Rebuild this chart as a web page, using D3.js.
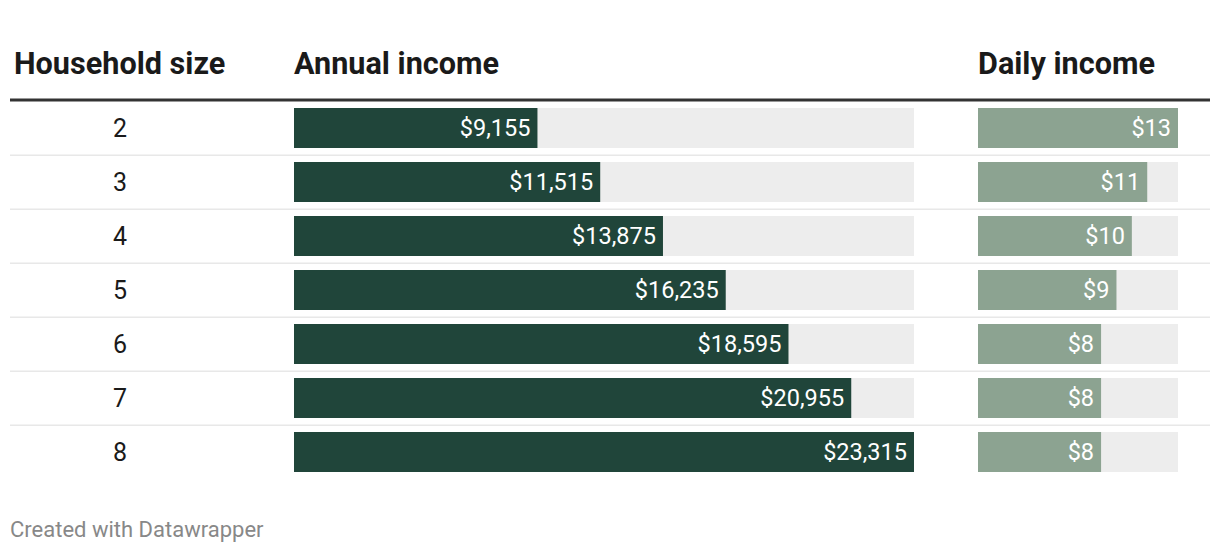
<!DOCTYPE html>
<html>
<head>
<meta charset="utf-8">
<script src="https://cdn.jsdelivr.net/npm/d3@7"></script>
<style>
  body { margin: 0; background: #fff; }
  svg { display: block; font-family: Roboto, sans-serif; }
</style>
</head>
<body>
<div id="chart"></div>
<script>
//Data
const householdSizes = ['2', '3', '4', '5', '6', '7', '8'];
const annualIncome = [9155, 11515, 13875, 16235, 18595, 20955, 23315];
const dailyIncome = [13, 11, 10, 9, 8, 8, 8];
const headers = ['Household size', 'Annual income', 'Daily income'];

const rows = householdSizes.map((s, i) => {
    return { size: s, annual: annualIncome[i], daily: dailyIncome[i] };
});

//General config
const width = 1220;
const height = 554;
const fmtAnnual = d3.format('$,');
const fmtDaily = d => '$' + d;

//Scales
const y = d3.scaleBand().domain(householdSizes).range([101, 101 + 54 * householdSizes.length]).padding(0);
const xAnnual = d3.scaleLinear().domain([0, d3.max(annualIncome)]).range([294, 914]);
const xDaily = d3.scaleLinear().domain([0, d3.max(dailyIncome)]).range([978, 1178]);
const barOffset = 7;
const barHeight = 40;

const svg = d3.select('#chart').append('svg')
    .attr('width', width)
    .attr('height', height);

//Headers
svg.selectAll('.header')
    .data(headers)
    .enter()
    .append('text')
    .attr('class', 'header')
    .attr('x', (d, i) => [14, 294, 978][i])
    .attr('y', 74)
    .attr('font-size', 30.6)
    .attr('font-weight', 700)
    .attr('fill', '#1a1a1a')
    .text(d => d);

svg.append('rect')
    .attr('x', 10)
    .attr('y', 98.5)
    .attr('width', 1200)
    .attr('height', 3)
    .attr('fill', '#333');

//Row separators
svg.selectAll('.sep')
    .data(rows.slice(0, -1))
    .enter()
    .append('rect')
    .attr('class', 'sep')
    .attr('x', 10)
    .attr('y', d => y(d.size) + y.bandwidth() - 0.5)
    .attr('width', 1200)
    .attr('height', 1.5)
    .attr('fill', '#e8e8e8');

const row = svg.selectAll('.row')
    .data(rows)
    .enter()
    .append('g')
    .attr('class', 'row');

//Household size
row.append('text')
    .attr('x', 120)
    .attr('y', d => y(d.size) + barOffset + barHeight / 2)
    .attr('dy', '0.35em')
    .attr('text-anchor', 'middle')
    .attr('font-size', 25)
    .attr('fill', '#1a1a1a')
    .text(d => d.size);

//Annual bars
row.append('rect')
    .attr('x', xAnnual(0))
    .attr('y', d => y(d.size) + barOffset)
    .attr('width', xAnnual.range()[1] - xAnnual.range()[0])
    .attr('height', barHeight)
    .attr('fill', '#ededed');

row.append('rect')
    .attr('x', xAnnual(0))
    .attr('y', d => y(d.size) + barOffset)
    .attr('width', d => xAnnual(d.annual) - xAnnual(0))
    .attr('height', barHeight)
    .attr('fill', '#20453a');

row.append('text')
    .attr('x', d => xAnnual(d.annual) - 7)
    .attr('y', d => y(d.size) + barOffset + barHeight / 2)
    .attr('dy', '0.35em')
    .attr('text-anchor', 'end')
    .attr('font-size', 23.5)
    .attr('fill', '#fff')
    .text(d => fmtAnnual(d.annual));

//Daily bars
row.append('rect')
    .attr('x', xDaily(0))
    .attr('y', d => y(d.size) + barOffset)
    .attr('width', xDaily.range()[1] - xDaily.range()[0])
    .attr('height', barHeight)
    .attr('fill', '#ededed');

row.append('rect')
    .attr('x', xDaily(0))
    .attr('y', d => y(d.size) + barOffset)
    .attr('width', d => xDaily(d.daily) - xDaily(0))
    .attr('height', barHeight)
    .attr('fill', '#8ca391');

row.append('text')
    .attr('x', d => xDaily(d.daily) - 7)
    .attr('y', d => y(d.size) + barOffset + barHeight / 2)
    .attr('dy', '0.35em')
    .attr('text-anchor', 'end')
    .attr('font-size', 23.5)
    .attr('fill', '#fff')
    .text(d => fmtDaily(d.daily));

//Footer
svg.append('text')
    .attr('x', 10)
    .attr('y', 537)
    .attr('font-size', 22)
    .attr('fill', '#888')
    .text('Created with Datawrapper');
</script>
</body>
</html>
